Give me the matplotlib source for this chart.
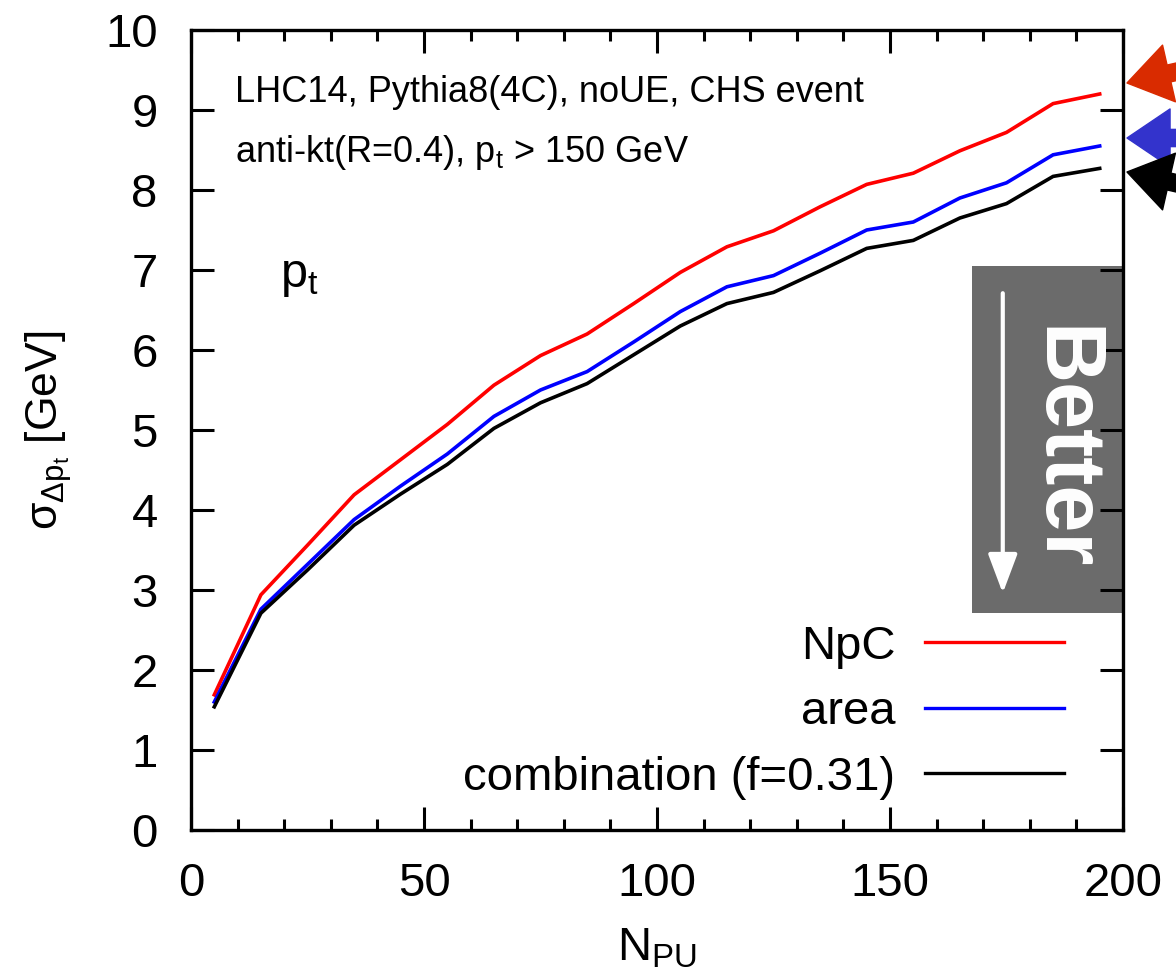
import matplotlib
matplotlib.use("Agg")
import matplotlib.pyplot as plt
from matplotlib.patches import Rectangle, FancyArrowPatch
from matplotlib.ticker import MultipleLocator

plt.rcParams['font.family'] = ['Liberation Sans', 'DejaVu Sans']
plt.rcParams['mathtext.fontset'] = 'custom'
plt.rcParams['mathtext.rm'] = 'Liberation Sans'
plt.rcParams['mathtext.it'] = 'Liberation Sans:italic'
plt.rcParams['mathtext.default'] = 'rm'

# ---- data ----
n_pu = [5, 15, 25, 35, 45, 55, 65, 75, 85, 95, 105, 115, 125, 135, 145, 155, 165, 175, 185, 195]
npc = [1.69, 2.94, 3.56, 4.19, 4.63, 5.07, 5.56, 5.93, 6.20, 6.58, 6.97, 7.29, 7.49, 7.79, 8.07, 8.21, 8.49, 8.72, 9.08, 9.20]
area = [1.60, 2.76, 3.32, 3.88, 4.30, 4.70, 5.17, 5.50, 5.73, 6.10, 6.48, 6.79, 6.93, 7.21, 7.50, 7.60, 7.90, 8.09, 8.44, 8.55]
combo = [1.54, 2.71, 3.25, 3.81, 4.20, 4.57, 5.02, 5.34, 5.58, 5.94, 6.30, 6.58, 6.72, 6.99, 7.27, 7.37, 7.65, 7.83, 8.17, 8.27]
labels = ['NpC', 'area', 'combination (f=0.31)']
colors = ['#ff0000', '#0000ff', '#000000']
x_ticks = [0, 50, 100, 150, 200]
y_ticks = list(range(0, 11))

W, H = 1176, 980
fig = plt.figure(figsize=(W / 100, H / 100), dpi=100)
ax = fig.add_axes([191 / W, 1 - 830 / H, (1123 - 191) / W, (830 - 30) / H])

for ys, lab, c in zip([npc, area, combo], labels, colors):
    ax.plot(n_pu, ys, color=c, lw=2.6, label=lab, solid_joinstyle='miter')

ax.set_xlim(0, 200)
ax.set_ylim(0, 10)
ax.set_xticks(x_ticks)
ax.set_yticks(y_ticks)
ax.xaxis.set_minor_locator(MultipleLocator(10))
ax.tick_params(which='both', direction='in', top=True, right=True, width=2.2)
ax.tick_params(which='major', length=16.5)
ax.tick_params(which='minor', length=8)
ax.tick_params(axis='x', which='major', labelsize=34, pad=23)
ax.tick_params(axis='y', which='major', labelsize=34, pad=24)
for s in ax.spines.values():
    s.set_linewidth(2.4)

ax.set_xlabel(r'N$_{\rm PU}$', fontsize=34, labelpad=15)
ax.set_ylabel(r'$\sigma_{\Delta p_t}$ [GeV]', fontsize=32, labelpad=22)

ax.text(0.047, 0.9104, 'LHC14, Pythia8(4C), noUE, CHS event', transform=ax.transAxes,
        fontsize=26, ha='left', va='baseline')
ax.text(0.047, 0.8354, r'anti-kt(R=0.4), p$_{\rm t}$ > 150 GeV', transform=ax.transAxes,
        fontsize=26, ha='left', va='baseline')
ax.text(0.095, 0.679, r'p$_{\rm t}$', transform=ax.transAxes,
        fontsize=35, ha='left', va='baseline')

leg = ax.legend(loc='lower right', bbox_to_anchor=(0.9365, 0.0375), frameon=False,
                fontsize=34, markerfirst=False, handlelength=2.95, handletextpad=0.62,
                labelspacing=0.46, borderpad=0, borderaxespad=0)
for l in leg.get_lines():
    l.set_linewidth(2.4)

# "Better" box
ax.add_patch(Rectangle((0.838, 0.271), 0.164, 0.434, transform=ax.transAxes,
                       facecolor='#6b6b6b', edgecolor='none', zorder=1, clip_on=False))
ax.annotate('', xy=(0.871, 0.296), xytext=(0.871, 0.671), xycoords='axes fraction',
            arrowprops=dict(arrowstyle='-|>,head_length=1.2,head_width=0.45', color='white',
                            lw=3, mutation_scale=20, shrinkA=0, shrinkB=0), zorder=2)
ax.text(0.9345, 0.4775, 'Better', transform=ax.transAxes, rotation=-90, fontsize=61,
        fontweight='bold', color='white', ha='center', va='center', zorder=2)

# side arrows outside the frame
arrow_specs = [((1127, H - 83), (1215, H - 63), '#d92b00'),
               ((1127, H - 138), (1215, H - 138), '#3333cc'),
               ((1127, H - 172), (1215, H - 192), '#000000')]
for tip, tail, c in arrow_specs:
    fig.patches.append(FancyArrowPatch(
        tail, tip, transform=None,
        arrowstyle='simple,head_length=1.0,head_width=1.35,tail_width=0.4',
        mutation_scale=31, color=c, shrinkA=0, shrinkB=0))

fig.savefig('out.png', dpi=100)
